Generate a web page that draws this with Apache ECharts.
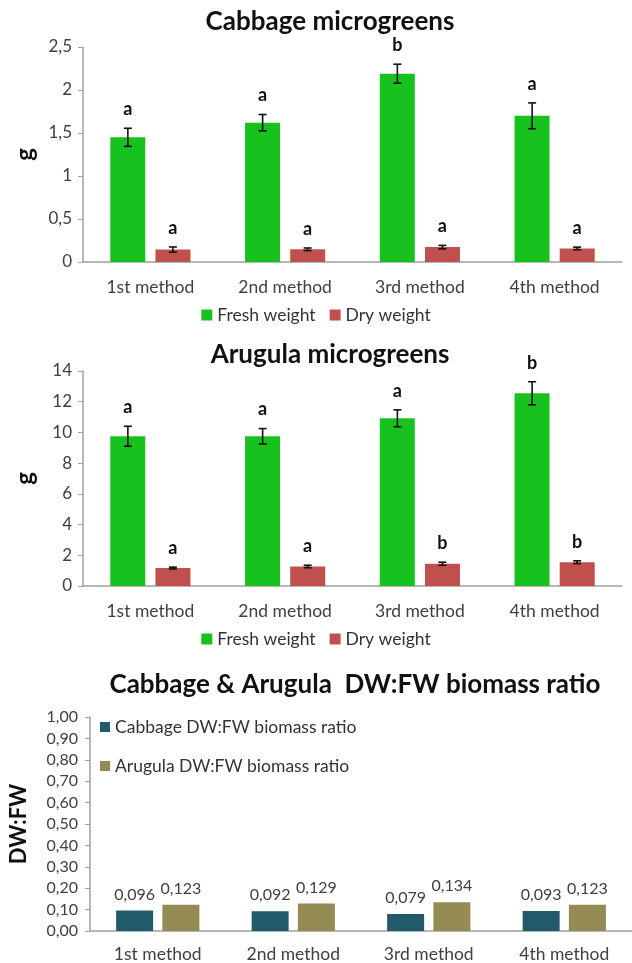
<!DOCTYPE html>
<html>
<head>
<meta charset="utf-8">
<script src="https://cdn.jsdelivr.net/npm/echarts@6/dist/echarts.min.js"></script>
<style>
  body { margin: 0; background: #fff; }
  .box { position: absolute; left: 0; width: 632px; }
  .box1 { top: 0; height: 330px; }
  .box2 { top: 330px; height: 320px; }
  .box3 { top: 650px; height: 313px; }
</style>
</head>
<body>
<div class="box box1"></div>
<div class="box box2"></div>
<div class="box box3"></div>
<script>
var categories = ['1st method', '2nd method', '3rd method', '4th method'];

var cabbageFresh = [1.45, 1.62, 2.19, 1.70];
var cabbageFreshErr = [0.105, 0.095, 0.11, 0.15];
var cabbageFreshLetters = ['a', 'a', 'b', 'a'];
var cabbageDry = [0.145, 0.148, 0.173, 0.158];
var cabbageDryErr = [0.03, 0.015, 0.02, 0.015];
var cabbageDryLetters = ['a', 'a', 'a', 'a'];

var arugulaFresh = [9.75, 9.75, 10.92, 12.55];
var arugulaFreshErr = [0.65, 0.5, 0.55, 0.75];
var arugulaFreshLetters = ['a', 'a', 'a', 'b'];
var arugulaDry = [1.17, 1.27, 1.45, 1.55];
var arugulaDryErr = [0.06, 0.08, 0.1, 0.09];
var arugulaDryLetters = ['a', 'a', 'b', 'b'];

var cabbageRatio = [0.096, 0.092, 0.079, 0.093];
var arugulaRatio = [0.123, 0.129, 0.134, 0.123];

var FONT = 'Lato';
var GREEN = '#17c21e';
var RED = '#c0504d';
var TEAL = '#215a6a';
var OLIVE = '#948a54';

function comma(v, digits) {
    return (digits == null ? String(v) : v.toFixed(digits)).replace('.', ',');
}

function errorSeries(vals, errs, letters, offset) {
    return {
        type: 'custom',
        z: 10,
        encode: { x: 0, y: [1, 2] },
        data: vals.map(function(v, i) { return [i, v - errs[i], v + errs[i]]; }),
        renderItem: function(params, api) {
            var lo = api.coord([api.value(0), api.value(1)]);
            var hi = api.coord([api.value(0), api.value(2)]);
            var x = lo[0] + offset;
            var cap = 4;
            var st = { stroke: '#111', lineWidth: 1.6 };
            return {
                type: 'group',
                children: [
                    { type: 'line', shape: { x1: x, y1: lo[1], x2: x, y2: hi[1] }, style: st },
                    { type: 'line', shape: { x1: x - cap, y1: lo[1], x2: x + cap, y2: lo[1] }, style: st },
                    { type: 'line', shape: { x1: x - cap, y1: hi[1], x2: x + cap, y2: hi[1] }, style: st },
                    { type: 'text', x: x, y: hi[1] - 19, style: {
                        text: letters[params.dataIndex], font: 'bold 18px ' + FONT,
                        fill: '#111', align: 'center', verticalAlign: 'middle' } }
                ]
            };
        }
    };
}

function weightOption(title, fresh, freshErr, freshLetters, dry, dryErr, dryLetters, yMax, yStep, grid, legendTop, titleTop) {
    return {
        textStyle: { fontFamily: FONT },
        title: {
            text: title, left: 325, textAlign: 'center', top: titleTop,
            textStyle: { fontFamily: FONT, fontSize: 26, fontWeight: 'bold', color: '#111' }
        },
        legend: {
            data: ['Fresh weight', 'Dry weight'],
            top: legendTop, left: 'center',
            itemWidth: 11, itemHeight: 11, itemGap: 14, itemStyle: { borderWidth: 0 },
            icon: 'rect',
            textStyle: { fontFamily: FONT, fontSize: 17.5, color: '#333' }
        },
        grid: grid,
        xAxis: {
            type: 'category',
            data: categories,
            axisTick: { show: false },
            axisLine: { lineStyle: { color: '#a0a0a0', width: 1.5 } },
            axisLabel: { fontFamily: FONT, fontSize: 17.5, color: '#404040', margin: 16 }
        },
        yAxis: {
            type: 'value',
            min: 0, max: yMax, interval: yStep,
            name: 'g', nameLocation: 'middle', nameGap: 46, nameRotate: 90,
            nameTextStyle: { fontFamily: FONT, fontSize: 24, fontWeight: 'bold', color: '#111' },
            splitLine: { show: false },
            axisLine: { show: true, lineStyle: { color: '#a0a0a0', width: 1.5 } },
            axisTick: { show: true, length: 5, lineStyle: { color: '#a0a0a0' } },
            axisLabel: { fontFamily: FONT, fontSize: 17, color: '#404040', margin: 11,
                formatter: function(v) { return comma(v); } }
        },
        series: [
            { name: 'Fresh weight', type: 'bar', data: fresh, barWidth: 35, barGap: '29%',
              itemStyle: { color: GREEN } },
            { name: 'Dry weight', type: 'bar', data: dry, barWidth: 35, barGap: '29%',
              itemStyle: { color: RED } },
            errorSeries(fresh, freshErr, freshLetters, -22.5),
            errorSeries(dry, dryErr, dryLetters, 22.5)
        ]
    };
}

var myBox1 = echarts.init(document.querySelector('.box1'));
var myBox2 = echarts.init(document.querySelector('.box2'));
var myBox3 = echarts.init(document.querySelector('.box3'));

var optionBox1 = weightOption('Cabbage microgreens',
    cabbageFresh, cabbageFreshErr, cabbageFreshLetters,
    cabbageDry, cabbageDryErr, cabbageDryLetters,
    2.5, 0.5, { left: 83, right: 10, top: 47, bottom: 68 }, 301, 4);

var optionBox2 = weightOption('Arugula microgreens',
    arugulaFresh, arugulaFreshErr, arugulaFreshLetters,
    arugulaDry, arugulaDryErr, arugulaDryLetters,
    14, 2, { left: 83, right: 10, top: 41, bottom: 64 }, 295, 7);

var optionBox3 = {
    textStyle: { fontFamily: FONT },
    title: {
        text: 'Cabbage & Arugula  DW:FW biomass ratio', left: 350, textAlign: 'center', top: 17,
        textStyle: { fontFamily: FONT, fontSize: 26, fontWeight: 'bold', color: '#111' }
    },
    legend: {
        data: ['Cabbage DW:FW biomass ratio', 'Arugula DW:FW biomass ratio'],
        orient: 'vertical', left: 95, top: 63,
        itemWidth: 10, itemHeight: 10, itemGap: 21, icon: 'rect',
        textStyle: { fontFamily: FONT, fontSize: 17.5, color: '#333' }
    },
    grid: { left: 82, right: 0, top: 67, bottom: 31 },
    xAxis: {
        type: 'category',
        data: categories,
        axisTick: { show: false },
        axisLine: { lineStyle: { color: '#a0a0a0', width: 1.5 } },
        axisLabel: { fontFamily: FONT, fontSize: 17.5, color: '#404040', margin: 14 }
    },
    yAxis: {
        type: 'value',
        min: 0, max: 1, interval: 0.1,
        name: 'DW:FW', nameLocation: 'middle', nameGap: 60, nameRotate: 90,
        nameTextStyle: { fontFamily: FONT, fontSize: 22, fontWeight: 'bold', color: '#111' },
        splitLine: { show: false },
        axisLine: { show: true, lineStyle: { color: '#a0a0a0', width: 1.5 } },
        axisTick: { show: true, length: 5, lineStyle: { color: '#a0a0a0' } },
        axisLabel: { fontFamily: FONT, fontSize: 16, color: '#404040', margin: 12,
            formatter: function(v) { return comma(v, 2); } }
    },
    series: [
        { name: 'Cabbage DW:FW biomass ratio', type: 'bar', data: cabbageRatio,
          barWidth: 37, barGap: '25%', itemStyle: { color: TEAL },
          label: { show: true, position: 'top', distance: 8, fontFamily: FONT, fontSize: 16, color: '#404040',
              formatter: function(p) { return comma(p.value, 3); } } },
        { name: 'Arugula DW:FW biomass ratio', type: 'bar', data: arugulaRatio,
          barWidth: 37, barGap: '25%', itemStyle: { color: OLIVE },
          label: { show: true, position: 'top', distance: 8, fontFamily: FONT, fontSize: 16, color: '#404040',
              formatter: function(p) { return comma(p.value, 3); } } }
    ]
};

myBox1.setOption(optionBox1);
myBox2.setOption(optionBox2);
myBox3.setOption(optionBox3);
</script>
</body>
</html>
